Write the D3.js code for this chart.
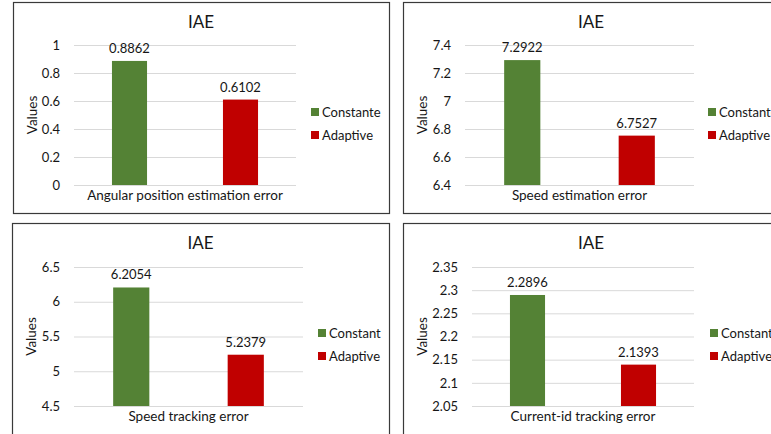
<!DOCTYPE html>
<html>
<head>
<meta charset="utf-8">
<script src="https://cdn.jsdelivr.net/npm/d3@7"></script>
<style>
  html, body { margin: 0; padding: 0; background: #fff; overflow: hidden; }
  svg { display: block; font-family: Lato, "Open Sans", sans-serif; }
</style>
</head>
<body>
<svg id="chart" width="771" height="434"></svg>
<script>
// IAE comparison: constant vs adaptive gains, one small chart per criterion
const chartTitle = "IAE";
const axisTitle = "Values";
const categories = [
  "Angular position estimation error",
  "Speed estimation error",
  "Speed tracking error",
  "Current-id tracking error"
];
const seriesNames = [
  ["Constante", "Adaptive"],
  ["Constante", "Adaptive"],
  ["Constant", "Adaptive"],
  ["Constant", "Adaptive"]
];
const constantValues = [0.8862, 7.2922, 6.2054, 2.2896];
const adaptiveValues = [0.6102, 6.7527, 5.2379, 2.1393];
const yDomains = [[0, 1], [6.4, 7.4], [4.5, 6.5], [2.05, 2.35]];
const yTicks = [
  [0, 0.2, 0.4, 0.6, 0.8, 1],
  [6.4, 6.6, 6.8, 7, 7.2, 7.4],
  [4.5, 5, 5.5, 6, 6.5],
  [2.05, 2.1, 2.15, 2.2, 2.25, 2.3, 2.35]
];
const seriesColors = ["#548235", "#C00000"];

// frame placement and inner plot box for each small chart
const layout = [
  { x: 13,  y: 2,   w: 376, h: 211, px0: 61, px1: 283, py0: 43, py1: 183, lx: 298 },
  { x: 403, y: 2,   w: 376, h: 211, px0: 62, px1: 291, py0: 43, py1: 183, lx: 305 },
  { x: 12,  y: 223, w: 377, h: 230, px0: 62, px1: 291, py0: 44, py1: 183, lx: 306 },
  { x: 403, y: 223, w: 376, h: 230, px0: 69, px1: 291, py0: 44, py1: 183, lx: 307 }
];

const textColor = "#161616";
const svg = d3.select("#chart");

categories.forEach((cat, i) => {
  const L = layout[i];
  const g = svg.append("g").attr("transform", `translate(${L.x},${L.y})`);

  g.append("rect")
    .attr("x", 0.5).attr("y", 0.5)
    .attr("width", L.w).attr("height", L.h)
    .attr("fill", "#fff")
    .attr("stroke", "#3a3a3a").attr("stroke-width", 1.2);

  const y = d3.scaleLinear().domain(yDomains[i]).range([L.py1, L.py0]);
  const x = d3.scaleBand()
    .domain(seriesNames[i])
    .range([L.px0, L.px1])
    .paddingInner(0.684)
    .paddingOuter(0.342);

  // gridlines + tick labels
  const axis = d3.axisLeft(y)
    .tickValues(yTicks[i])
    .tickSize(-(L.px1 - L.px0))
    .tickPadding(14)
    .tickFormat(d => String(+d.toFixed(2)));
  const ag = g.append("g")
    .attr("transform", `translate(${L.px0},0)`)
    .call(axis);
  ag.select(".domain").remove();
  ag.selectAll(".tick line").attr("stroke", "#d9d9d9").attr("stroke-width", 1);
  ag.selectAll(".tick text")
    .attr("fill", textColor)
    .style("font-size", "13px")
    .style("font-family", "Lato, sans-serif");

  const vals = [constantValues[i], adaptiveValues[i]];
  const rows = seriesNames[i].map((s, k) => ({ name: s, value: vals[k], color: seriesColors[k] }));

  g.selectAll("rect.bar").data(rows).enter().append("rect")
    .attr("class", "bar")
    .attr("x", d => x(d.name))
    .attr("width", x.bandwidth())
    .attr("y", d => y(d.value))
    .attr("height", d => y(yDomains[i][0]) - y(d.value))
    .attr("fill", d => d.color);

  g.selectAll("text.val").data(rows).enter().append("text")
    .attr("class", "val")
    .attr("x", d => x(d.name) + x.bandwidth() / 2)
    .attr("y", d => y(d.value) - 8)
    .attr("text-anchor", "middle")
    .attr("fill", textColor)
    .style("font-size", "13px")
    .text(d => d.value.toFixed(4));

  // title
  g.append("text")
    .attr("x", L.w / 2).attr("y", 26)
    .attr("text-anchor", "middle")
    .attr("fill", textColor)
    .style("font-size", "17px")
    .text(chartTitle);

  // category label under the plot
  g.append("text")
    .attr("x", (L.px0 + L.px1) / 2).attr("y", L.py1 + 15)
    .attr("text-anchor", "middle")
    .attr("fill", textColor)
    .style("font-size", "13.5px")
    .text(cat);

  // y axis title
  g.append("text")
    .attr("transform", `translate(${24},${(L.py0 + L.py1) / 2}) rotate(-90)`)
    .attr("text-anchor", "middle")
    .attr("fill", textColor)
    .style("font-size", "13.5px")
    .text(axisTitle);

  // legend
  const lg = g.append("g");
  rows.forEach((d, k) => {
    const cy = 110 + k * 23;
    lg.append("rect")
      .attr("x", L.lx).attr("y", cy - 4)
      .attr("width", 8).attr("height", 8)
      .attr("fill", d.color);
    lg.append("text")
      .attr("x", L.lx + 11).attr("y", cy + 5)
      .attr("fill", textColor)
      .style("font-size", "13px")
      .text(d.name);
  });
});
</script>
</body>
</html>
